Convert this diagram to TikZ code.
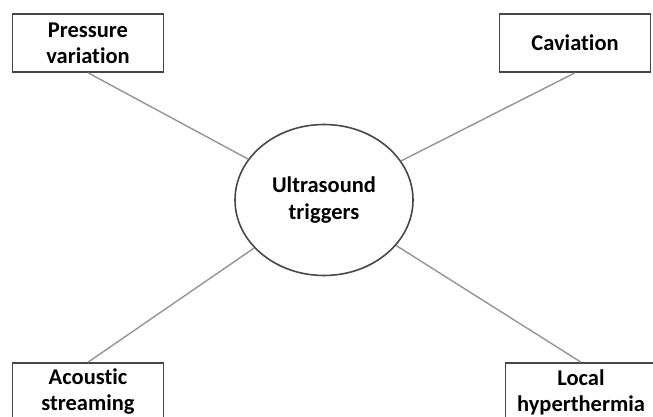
\documentclass[tikz,border=0pt]{standalone}
\usepackage{fontspec}
\setmainfont[Ligatures=NoCommon]{Carlito}
\usetikzlibrary{positioning,shapes.geometric}
\definecolor{boxgray}{gray}{0.28}
\definecolor{linegray}{gray}{0.58}

\begin{document}
\begin{tikzpicture}[x=1pt, y=-1pt,
    trig/.style={draw=boxgray, line width=1.6pt, minimum width=151pt, minimum height=58pt,
      inner sep=0pt, align=center, font=\bfseries\fontsize{22.5}{26}\selectfont},
    hub/.style={ellipse, draw=boxgray, line width=1.6pt, minimum width=178pt, minimum height=151pt,
      inner sep=0pt, align=center, font=\bfseries\fontsize{22.5}{27}\selectfont},
    link/.style={draw=linegray, line width=1.4pt}]
  \clip (0,0) rectangle (653,417);
  \useasboundingbox (0,0) rectangle (653,417);

  \node[hub] (us) at (324,200) {Ultrasound\\triggers};  %centre node
  \node[trig] (pv) at (88,43) {Pressure\\variation};
  \node[trig] (cav) at (575,43) {Caviation};
  \node[trig] (as) at (88,392) {Acoustic\\streaming};
  \node[trig] (lh) at (581,392) {Local\\hyperthermia};

  \path[link]
    (pv.south) edge (us)
    (cav.south) edge (us)
    (as.north) edge (us)
    (lh.north) edge (us);
\end{tikzpicture}
\end{document}
